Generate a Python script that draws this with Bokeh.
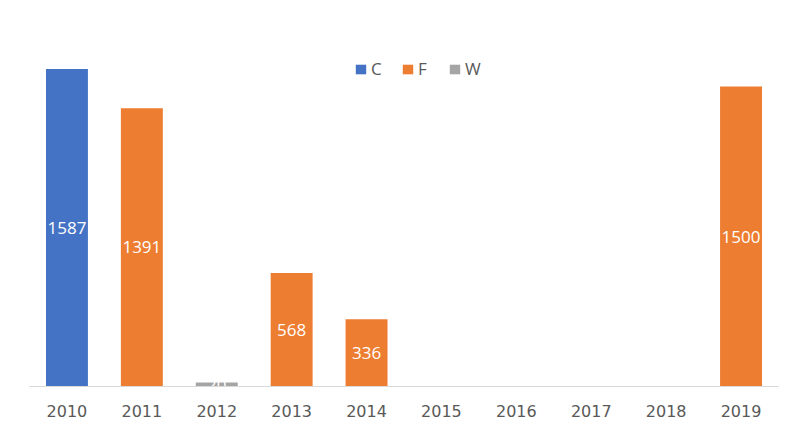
from bokeh.plotting import figure
from bokeh.models import ColumnDataSource, Legend, LegendItem, FactorRange
from bokeh.core.properties import value
from bokeh.embed import file_html
from bokeh.resources import INLINE

years = ["2010", "2011", "2012", "2013", "2014", "2015", "2016", "2017", "2018", "2019"]
categories = ["C", "F", "W"]
c_values = [1587, None, None, None, None, None, None, None, None, None]
f_values = [None, 1391, None, 568, 336, None, None, None, None, 1500]
w_values = [None, None, 20, None, None, None, None, None, None, None]
colors = ["#4472C4", "#ED7D31", "#A5A5A5"]

p = figure(x_range=FactorRange(*years), y_range=(0, 1800), width=797, height=423,
           output_backend="svg", toolbar_location=None,
           min_border_left=29, min_border_right=19, min_border_top=26, min_border_bottom=37)
p.outline_line_color = None
p.xgrid.visible = False
p.ygrid.visible = False
p.yaxis.visible = False
p.background_fill_color = "white"
p.border_fill_color = "white"

p.xaxis.axis_line_color = "#D9D9D9"
p.xaxis.axis_line_width = 1
p.xaxis.major_tick_line_color = None
p.xaxis.minor_tick_line_color = None
p.xaxis.major_tick_out = 0
p.xaxis.major_label_standoff = 18
p.xaxis.major_label_text_font = "DejaVu Sans"
p.xaxis.major_label_text_font_size = "16px"
p.xaxis.major_label_text_color = "#595959"

items = []
for cat, vals, col in zip(categories, [c_values, f_values, w_values], colors):
    xs = [y for y, v in zip(years, vals) if v is not None]
    tops = [v for v in vals if v is not None]
    src = ColumnDataSource(dict(x=xs, top=tops, mid=[t / 2 for t in tops], lab=[str(t) for t in tops]))
    r = p.vbar(x="x", top="top", width=0.56, source=src, fill_color=col, line_color=None)
    p.text(x="x", y="mid", text="lab", source=src, text_color="white",
           text_align="center", text_baseline="middle",
           text_font=value("Open Sans"), text_font_size="17px")
    items.append(LegendItem(label=cat, renderers=[r]))

legend = Legend(items=items, location=(325, 306), orientation="horizontal",
                glyph_width=13, glyph_height=12, label_standoff=4, spacing=10,
                label_text_font="Open Sans", label_text_font_size="17px",
                label_text_color="#595959", border_line_color=None,
                background_fill_alpha=0, margin=0, padding=0, label_height=20)
p.add_layout(legend, "center")

open("out.html", "w").write(file_html(p, INLINE))
